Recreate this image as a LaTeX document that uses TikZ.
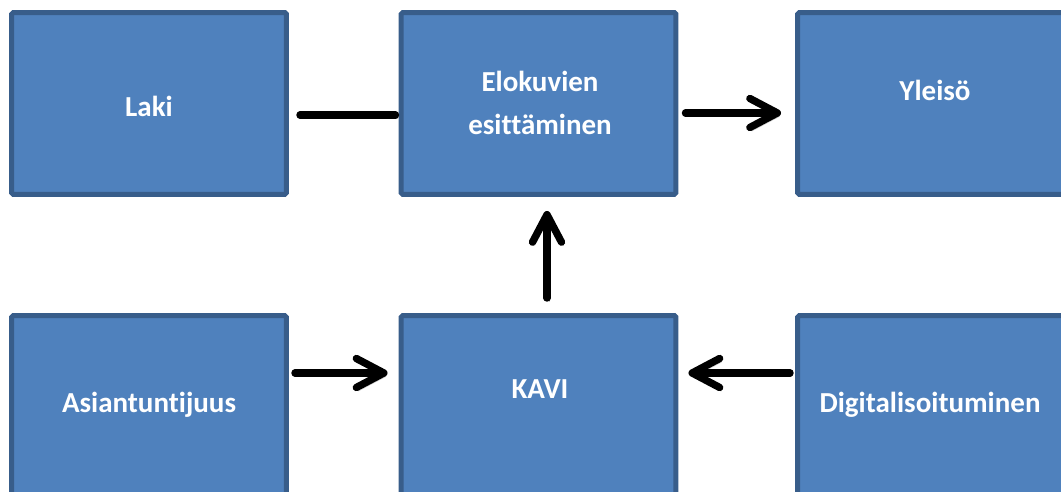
\documentclass[tikz,border=0pt]{standalone}
\usepackage{fontspec}
\setmainfont{Carlito}[Ligatures=NoCommon]
\usetikzlibrary{arrows.meta,positioning}
\definecolor{boxfill}{HTML}{4F81BD}
\definecolor{boxline}{HTML}{385D8A}
\tikzset{
    box/.style   = {rectangle, draw=boxline, fill=boxfill, line width=0.1cm,
                    minimum width=5.5cm, minimum height=3.64cm, rounded corners=1pt},
    boxtext/.style = {text=white, font=\bfseries\fontsize{16.5}{24}\selectfont, align=center},
    link/.style  = {line width=4.2pt, line cap=round,
                    preaction={draw=black!40, opacity=0.45,
                               transform canvas={shift={(0.04cm,-0.07cm)}}}}
}
\begin{document}
\begin{tikzpicture}[x=0.02cm, y=0.02cm,
	>={Straight Barb[length=5.5mm, width=5.8mm, round]}]
	\clip (0,0) rectangle (1061,492);
		% top row
		\node[box] (laki) at (149,388.5) {};
		\node[box] (elokuvat) at (538.5,388.5) {};
		\node[box] (yleiso) at (935,388.5) {};
		% bottom row
		\node[box] (asiantuntijuus) at (149,85.5) {};
		\node[box] (kavi) at (538.5,85.5) {};
		\node[box] (digi) at (935,85.5) {};

		\node[boxtext] (laki text) at (149,386) {Laki};
		\node[boxtext] (elokuvat text) at (540,389) {Elokuvien\\esittäminen};
		\node[boxtext] (yleiso text) at (935,402) {Yleisö};
		\node[boxtext] (asiantuntijuus text) at (149,87) {Asiantuntijuus};
		\node[boxtext] (kavi text) at (540,103) {KAVI};
		\node[boxtext] (digi text) at (930,87) {Digitalisoituminen};

		\draw[link] ([xshift=0.22cm,yshift=-0.23cm]laki.east)
			-- ([xshift=-0.06cm,yshift=-0.23cm]elokuvat.west);
		\draw[link,->] ([xshift=0.14cm,yshift=-0.19cm]elokuvat.east)
			-- ([xshift=-0.28cm,yshift=-0.19cm]yleiso.west);
		\draw[link,->] ([xshift=0.17cm,yshift=0.3cm]kavi.north)
			-- ([xshift=0.17cm,yshift=-0.28cm]elokuvat.south);
		\draw[link,->] ([xshift=0.12cm,yshift=0.67cm]asiantuntijuus.east)
			-- ([xshift=-0.22cm,yshift=0.67cm]kavi.west);
		\draw[link,->] ([xshift=-0.1cm,yshift=0.67cm]digi.west)
			-- ([xshift=0.2cm,yshift=0.67cm]kavi.east);
\end{tikzpicture}
\end{document}
